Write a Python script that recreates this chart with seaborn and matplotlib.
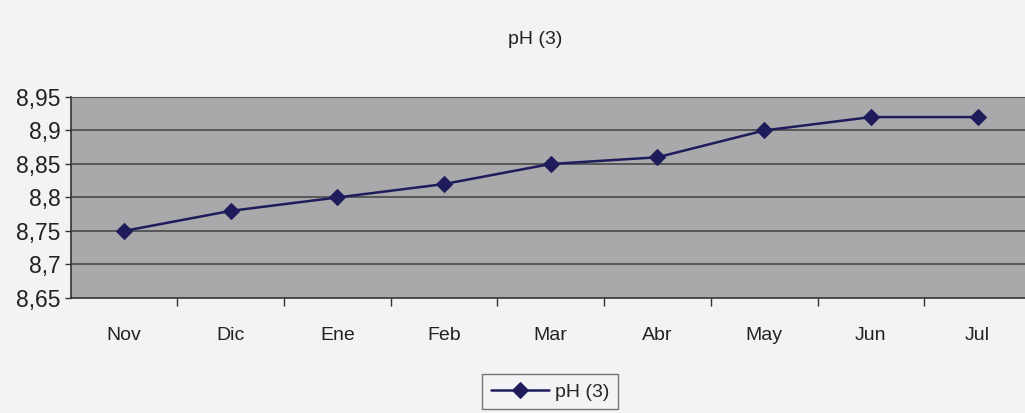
"""
pH (3) monthly evolution, Excel-style line chart.
"""

import matplotlib
matplotlib.use("Agg")
import matplotlib.pyplot as plt
import seaborn as sns
import pandas as pd
import numpy as np

# Data
months = ["Nov", "Dic", "Ene", "Feb", "Mar", "Abr", "May", "Jun", "Jul"]
ph_values = [8.75, 8.78, 8.80, 8.82, 8.85, 8.86, 8.90, 8.92, 8.92]
y_ticks = [8.65, 8.70, 8.75, 8.80, 8.85, 8.90, 8.95]
y_tick_labels = ["8,65", "8,7", "8,75", "8,8", "8,85", "8,9", "8,95"]

sns.set_style("white")
plt.rcParams["font.family"] = ["Liberation Sans", "DejaVu Sans"]

df = pd.DataFrame({"pos": np.arange(len(months)), "ph": ph_values})

fig = plt.figure(figsize=(10.25, 4.13), dpi=100)
fig.patch.set_facecolor("#f3f3f5")
ax = fig.add_axes([0.0688, 0.2785, 0.937, 0.4867])
ax.set_facecolor("#a9a9ab")

line_color = "#1f1c5c"
sns.lineplot(
    data=df, x="pos", y="ph", ax=ax,
    color=line_color, linewidth=1.8,
    marker="D", markersize=8, markeredgecolor=line_color,
    label="pH (3)",
)

ax.set_xlim(-0.5, len(months) - 0.5)
ax.set_ylim(8.65, 8.95)
ax.set_yticks(y_ticks)
ax.set_yticklabels(y_tick_labels, fontsize=16.5, color="#222222")
ax.set_xticks(df["pos"])
ax.set_xticklabels(months, fontsize=14, color="#222222")
ax.set_xticks(np.arange(0.5, len(months) - 0.5), minor=True)
ax.tick_params(axis="both", which="both", bottom=True, left=True)
ax.tick_params(axis="x", which="major", length=0, pad=21)
ax.tick_params(axis="x", which="minor", length=6, width=1, color="#333333", direction="out")
ax.tick_params(axis="y", length=4, width=1, color="#333333", direction="out", pad=3)
ax.set_xlabel("")
ax.set_ylabel("")

for y in y_ticks[1:-1]:
    ax.axhline(y, color="#4a4a4a", linewidth=1.2, zorder=1)

for side in ["left", "bottom"]:
    ax.spines[side].set_color("#333333")
    ax.spines[side].set_linewidth(1.2)
ax.spines["top"].set_color("#555555")
ax.spines["right"].set_visible(False)

fig.text(0.522, 0.905, "pH (3)", ha="center", va="center", fontsize=14, color="#222222")

ax.get_legend().remove()
leg = fig.legend(
    *ax.get_legend_handles_labels(),
    loc="center left", bbox_to_anchor=(0.470, 0.051),
    fontsize=14, frameon=True, fancybox=False,
    edgecolor="#555555", facecolor="#f3f3f5",
    handlelength=3.0, borderpad=0.45, handletextpad=0.3,
    borderaxespad=0,
)
leg.get_frame().set_linewidth(1.0)

plt.savefig("out.png", dpi=100, facecolor=fig.get_facecolor())
plt.close()
